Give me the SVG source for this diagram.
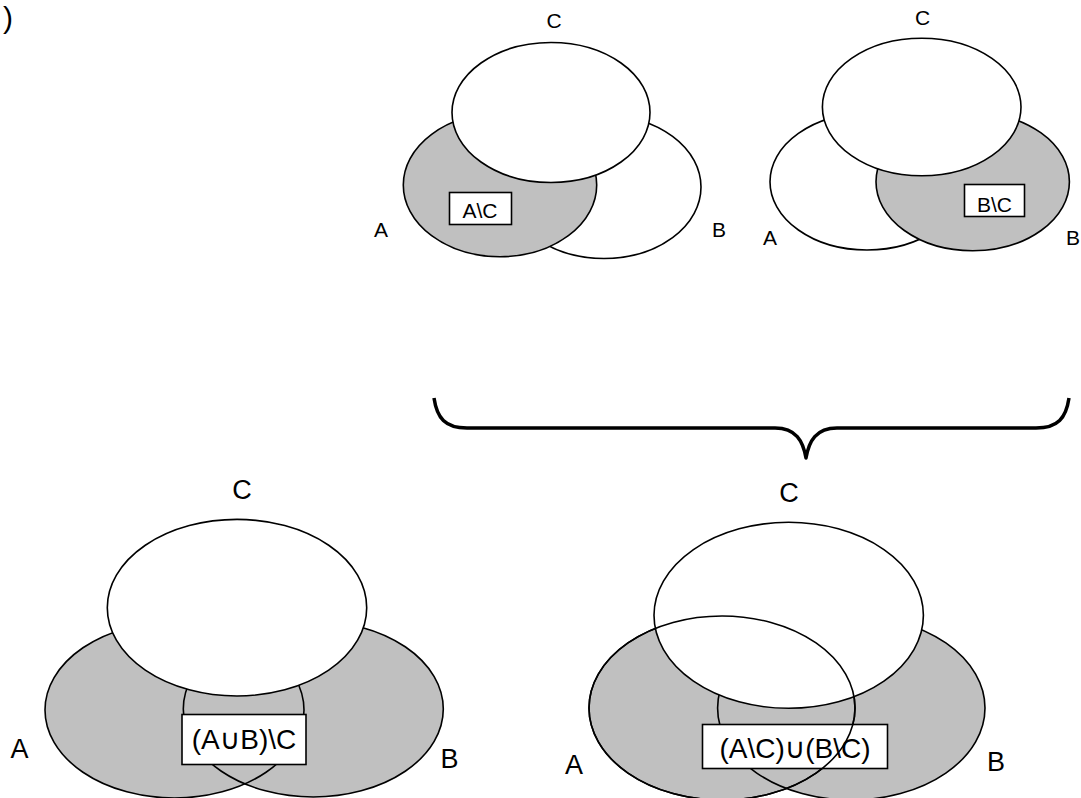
<svg xmlns="http://www.w3.org/2000/svg" width="1081" height="798" viewBox="0 0 1081 798">
<style>
text{font-family:"Liberation Sans","DejaVu Sans",Arial,sans-serif;fill:#000;text-anchor:middle}
.s{font-size:21px}
.l{font-size:27px}
.b{font-size:28px}
.w{fill:#fff;stroke:#000;stroke-width:1.6}
.g{fill:#c0c0c0;stroke:#000;stroke-width:1.6}
.gf{fill:#c0c0c0;stroke:none}
.o{fill:none;stroke:#000;stroke-width:1.6}
.box{fill:#fff;stroke:#000;stroke-width:1.6}
</style>
<rect x="0" y="0" width="1081" height="798" fill="#fff"/>
<text x="3" y="28" style="font-size:30px;text-anchor:start">)</text>

<g id="venn-top-left">
<ellipse class="w" cx="604" cy="187" rx="97" ry="71.5"/>
<ellipse class="g" cx="500" cy="185" rx="96.7" ry="71.7"/>
<ellipse class="w" cx="551" cy="112.5" rx="99" ry="70"/>
<rect class="box" x="449.5" y="192.5" width="62" height="32"/>
<text class="s" x="480" y="218">A\C</text>
<text class="s" x="554" y="28">C</text>
<text class="s" x="381" y="237">A</text>
<text class="s" x="719" y="237">B</text>
</g>

<g id="venn-top-right">
<ellipse class="w" cx="867" cy="181.7" rx="97" ry="68.3"/>
<ellipse class="g" cx="972.7" cy="181.7" rx="96.7" ry="69"/>
<ellipse class="w" cx="921.7" cy="107" rx="99.3" ry="68.7"/>
<rect class="box" x="964.5" y="184.5" width="60" height="32"/>
<text class="s" x="994.5" y="212">B\C</text>
<text class="s" x="922.5" y="25">C</text>
<text class="s" x="770" y="245">A</text>
<text class="s" x="1073" y="245">B</text>
</g>

<g id="connectors">
<path d="M434,398 C437,418 445,428 467,428 L775,428 C796,428 803,441 806,458 C809,441 816,428 837,428 L1036,428 C1058,428 1066,418 1069,398" fill="none" stroke="#000" stroke-width="3.5" stroke-linejoin="round"/>
</g>

<g id="venn-bottom-left">
<ellipse class="gf" cx="174.5" cy="710" rx="129.5" ry="88"/>
<ellipse class="gf" cx="313.3" cy="709" rx="130" ry="88"/>
<ellipse class="o" cx="174.5" cy="710" rx="129.5" ry="88"/>
<ellipse class="o" cx="313.3" cy="709" rx="130" ry="88"/>
<ellipse class="w" cx="237" cy="607.7" rx="129.7" ry="88.3"/>
<rect class="box" x="182" y="714.5" width="124" height="50"/>
<text class="b" x="244" y="749">(A∪B)\C</text>
<text class="l" x="242" y="499">C</text>
<text class="l" x="19.5" y="758">A</text>
<text class="l" x="449.5" y="768">B</text>
</g>

<g id="venn-bottom-right">
<ellipse class="gf" cx="851.3" cy="708" rx="133.7" ry="92"/>
<ellipse class="gf" cx="722" cy="708" rx="133" ry="92"/>
<ellipse class="o" cx="851.3" cy="708" rx="133.7" ry="92"/>
<ellipse class="o" cx="722" cy="708" rx="133" ry="92"/>
<ellipse class="w" cx="788.7" cy="615.3" rx="134.7" ry="93"/>
<rect class="box" x="702.5" y="724.5" width="185" height="44"/>
<text class="b" x="795" y="758">(A\C)∪(B\C)</text>
<ellipse class="o" cx="722" cy="708" rx="133" ry="92"/>
<text class="l" x="789" y="502">C</text>
<text class="l" x="574" y="774">A</text>
<text class="l" x="996" y="771">B</text>
</g>
</svg>
